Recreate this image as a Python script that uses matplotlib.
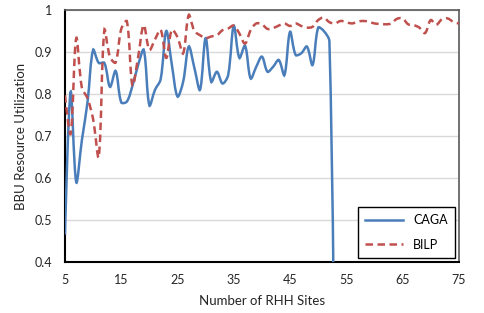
import numpy as np
import matplotlib
matplotlib.use("Agg")
import matplotlib.pyplot as plt
from matplotlib.path import Path
from matplotlib.patches import PathPatch
from matplotlib.lines import Line2D

# number of RHH sites
sites_caga = list(range(5, 54))
sites_bilp = list(range(5, 76))

# BBU resource utilization
caga = [0.465, 0.805, 0.59, 0.69, 0.78, 0.905, 0.874, 0.874, 0.817, 0.855,
        0.78, 0.782, 0.82, 0.869, 0.905, 0.773, 0.81, 0.835, 0.95, 0.869,
        0.794, 0.829, 0.913, 0.862, 0.81, 0.933, 0.829, 0.853, 0.825, 0.845,
        0.962, 0.886, 0.915, 0.837, 0.865, 0.889, 0.853, 0.865, 0.881, 0.845,
        0.948, 0.893, 0.897, 0.913, 0.869, 0.958, 0.95, 0.925, 0.0]
bilp = [0.797, 0.705, 0.933, 0.815, 0.79, 0.74, 0.65, 0.952, 0.888, 0.875,
        0.955, 0.973, 0.82, 0.888, 0.964, 0.905, 0.93, 0.953, 0.886, 0.953,
        0.935, 0.897, 0.988, 0.95, 0.94, 0.933, 0.937, 0.94, 0.952, 0.956,
        0.963, 0.944, 0.92, 0.952, 0.968, 0.966, 0.955, 0.957, 0.963, 0.968,
        0.962, 0.968, 0.962, 0.958, 0.96, 0.976, 0.982, 0.971, 0.968, 0.974,
        0.971, 0.968, 0.972, 0.974, 0.972, 0.968, 0.967, 0.966, 0.968, 0.979,
        0.98, 0.966, 0.964, 0.958, 0.945, 0.976, 0.965, 0.978, 0.98, 0.972,
        0.968]

x_ticks = [5, 15, 25, 35, 45, 55, 65, 75]
y_ticks = [0.4, 0.5, 0.6, 0.7, 0.8, 0.9, 1.0]
y_tick_labels = ["0.4", "0.5", "0.6", "0.7", "0.8", "0.9", "1"]

blue = "#4A7EBB"
red = "#C0504D"
dash = (0, (3, 1.8))
plt.rcParams["font.family"] = ["Lato", "DejaVu Sans"]


def smooth_path(ax, x, y):
    """Excel-like smoothed line: cubic bezier through every point,
    tangents weighted by the on-screen length of the neighbouring segments."""
    p = np.column_stack([x, y]).astype(float)
    s = ax.transData.transform(p)
    n = len(p)
    d = np.hypot(*np.diff(s, axis=0).T)
    verts = [p[0]]
    codes = [Path.MOVETO]

    def tangent(i):
        if i == 0 or i == n - 1:
            return np.zeros(2), 0.0, 0.0
        return p[i + 1] - p[i - 1], d[i - 1], d[i]

    for i in range(n - 1):
        t1, a1, b1 = tangent(i)
        t2, a2, b2 = tangent(i + 1)
        c1 = p[i] + t1 * (b1 / (a1 + b1) / 3 if a1 + b1 else 0)
        c2 = p[i + 1] - t2 * (a2 / (a2 + b2) / 3 if a2 + b2 else 0)
        verts += [c1, c2, p[i + 1]]
        codes += [Path.CURVE4] * 3
    return Path(verts, codes)


fig = plt.figure(figsize=(4.85, 3.13), dpi=100)
ax = fig.add_axes([0.134, 0.163, 0.812, 0.805])
ax.set_xlim(5, 75)
ax.set_ylim(0.4, 1.0)

ax.add_patch(PathPatch(smooth_path(ax, sites_caga, caga), fill=False,
                       edgecolor=blue, lw=1.8, zorder=3))
ax.add_patch(PathPatch(smooth_path(ax, sites_bilp, bilp), fill=False,
                       edgecolor=red, lw=1.8, linestyle=dash, zorder=3))

ax.set_xticks(x_ticks)
ax.set_yticks(y_ticks)
ax.set_yticklabels(y_tick_labels)
ax.tick_params(length=0, labelsize=9, colors="#262626", pad=9)
ax.grid(axis="y", color="#d9d9d9", lw=1.0)
ax.set_axisbelow(True)
for s in ["left", "bottom"]:
    ax.spines[s].set_color("black")
    ax.spines[s].set_linewidth(1.5)
for s in ["top", "right"]:
    ax.spines[s].set_color("#595959")
    ax.spines[s].set_linewidth(1.2)

ax.set_xlabel("Number of RHH Sites", fontsize=9.5, color="#262626", labelpad=6)
ax.set_ylabel("BBU Resource Utilization", fontsize=9.5, color="#262626", labelpad=6)

handles = [Line2D([], [], color=blue, lw=1.8),
           Line2D([], [], color=red, lw=1.8, linestyle=dash)]
leg = ax.legend(handles, ["CAGA", "BILP"], loc="lower right", fontsize=9,
                fancybox=False, framealpha=1, edgecolor="black",
                handlelength=3.0, labelspacing=1.0, borderaxespad=0.3,
                borderpad=0.6)
leg.get_frame().set_linewidth(1.0)

fig.savefig("out.png", dpi=100)
